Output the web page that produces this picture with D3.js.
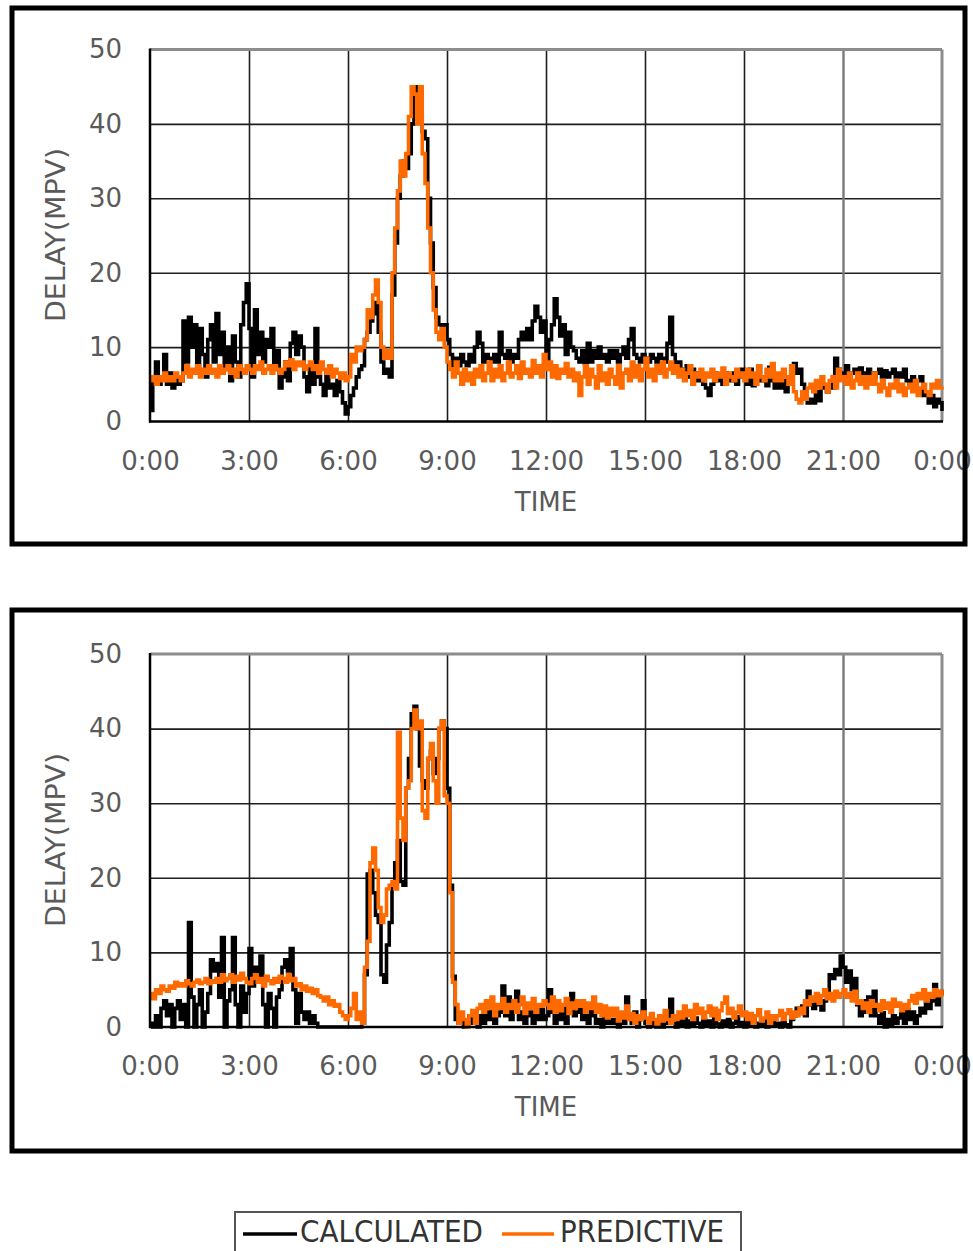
<!DOCTYPE html>
<html>
<head>
<meta charset="utf-8">
<script src="https://cdn.jsdelivr.net/npm/d3@7"></script>
<style>
  body { margin: 0; background: #fff; }
  text { font-family: "DejaVu Sans", sans-serif; }
</style>
</head>
<body>
<svg id="chart" width="973" height="1251"></svg>
<script>
// time axis: one value every 5 minutes, 0:00 .. 24:00 (12 per hour row + final point)
var xTicks = [0, 180, 360, 540, 720, 900, 1080, 1260, 1440];
var xTickLabels = ["0:00", "3:00", "6:00", "9:00", "12:00", "15:00", "18:00", "21:00", "0:00"];
var yTicks = [0, 10, 20, 30, 40, 50];
var seriesNames = ["CALCULATED", "PREDICTIVE"];

// upper chart
var calcTop = [
  1.5, 5.5, 8, 5, 6, 9, 5, 6.5, 4.5, 6, 5, 5.5,
  13.5, 8, 14, 10, 13, 7, 12.5, 9, 6, 11, 13, 8,
  14.5, 9, 12, 7, 10, 5.5, 11.5, 8, 6, 13, 16, 18.5,
  12.5, 6, 15, 9, 12, 8, 11, 10, 12.5, 7, 9.5, 4.5,
  6, 8, 5.5, 10.5, 12, 9, 11.5, 10, 6, 4, 7.5, 5,
  12.5, 6, 5, 3.5, 6.5, 4.5, 5, 3.5, 5.5, 4, 2.5, 1,
  2, 3.5, 4.5, 6, 7, 7.5, 11, 12, 13.5, 14.5, 16, 12,
  8, 6.5, 7, 6, 17, 24, 30, 33, 35, 34, 36, 40,
  45, 44, 41, 39, 38, 30, 24, 18, 14, 13, 12, 13,
  11, 9, 7.5, 8.5, 7.5, 9, 8, 7.5, 9, 8, 10, 12,
  10.5, 8, 9, 8.5, 8, 9, 8, 12, 9, 8.5, 9.5, 8,
  9, 8.5, 11, 12, 11, 12.5, 11, 13.5, 15.5, 14, 12, 13.5,
  8, 11, 13, 16.5, 14, 11.5, 13, 9, 12, 10, 9.5, 8.5,
  8, 9.5, 7.8, 10.5, 8, 9.5, 8.5, 10, 8.5, 9, 8, 9.5,
  8.5, 9.5, 8, 9, 10, 8.5, 11, 12.5, 9, 8.5, 8, 9,
  8.5, 8, 9, 8.5, 8, 9, 8.5, 8, 10.5, 14, 9, 7,
  8, 7, 6.5, 7.5, 6, 7, 6.5, 5.5, 6, 5, 4.5, 3.5,
  5, 6.5, 5.5, 6, 5, 6.5, 6, 5.5, 6.5, 5, 6, 7,
  6, 5, 7, 4.8, 6, 7.5, 5.5, 6, 4.8, 7.3, 5.5, 4.5,
  6, 4.5, 5.5, 4, 6, 7, 7.8, 6.5, 7, 5, 3.5, 2.5,
  3, 2.5, 4, 2.8, 5, 4.5, 4, 5, 4.5, 8.5, 7, 6,
  6.5, 7.5, 5.5, 6.5, 7, 6, 7.2, 6.5, 6, 7, 6.5, 6,
  6.5, 7, 6, 6.8, 6, 6.5, 7, 6, 6.5, 6, 7, 5.5,
  5, 6, 4.6, 5.5, 6, 3.5, 4, 2.5, 3.5, 2, 3, 2.5,
  1.4
];
var predTop = [
  5.5, 6, 5, 6, 5.5, 6.5, 5.5, 6, 5.5, 6.5, 6, 5.5,
  6.5, 7.5, 6, 7, 6.5, 7.5, 6, 7, 6.5, 7.5, 6.5, 7,
  6, 7.5, 6.5, 7, 7.5, 6.5, 7, 6, 7.5, 7, 6.5, 7.5,
  7, 6.5, 7.5, 7, 8, 6.5, 7, 7.5, 6.5, 7.5, 7, 6.5,
  7, 8, 7.5, 8.3, 7, 8, 7.5, 8, 7, 7.5, 8, 7,
  7.5, 6.5, 8, 7, 6.5, 7.5, 6, 7, 6.5, 5.8, 6.5, 5.5,
  6, 9, 8, 10, 9.5, 10, 11, 15, 14, 17, 19, 16,
  10, 8.5, 9.5, 8.5, 20, 26, 31, 35, 33, 36, 41, 45,
  44, 40, 45, 36, 32, 26, 20, 15, 12, 11, 12.5, 10,
  8, 7, 6, 8, 6.5, 5, 7, 5.5, 6.5, 5, 7, 6,
  7.5, 5.5, 6.5, 8, 5.5, 7, 6, 7.5, 5.5, 6.5, 8, 6,
  6.5, 7.5, 5.8, 8, 6.5, 7, 6, 8.2, 6.5, 7.5, 6, 9,
  7, 8, 6, 7.5, 5.8, 7, 6.5, 7.8, 6, 7, 5.5, 6.5,
  3.5, 6, 7.5, 5, 7, 6, 4.5, 7.5, 5.5, 6.5, 5, 7,
  6, 5, 7.5, 4.5, 6.5, 7, 5.5, 8, 6, 7.5, 5.5, 7,
  8.5, 6, 7, 5.5, 7.5, 6.5, 8, 6, 7, 8, 6.5, 7.5,
  6, 7, 5.5, 6.5, 7.5, 5, 6.5, 6, 7, 5.5, 6.5, 6,
  7, 5.5, 6.5, 6, 7.2, 5, 6.5, 6, 5.5, 7, 6, 6.5,
  5.5, 7, 6, 6.5, 5, 7.5, 6, 5.5, 7, 6, 7.8, 5.5,
  6.5, 5.5, 7, 6, 5, 7.5, 4, 3, 2.5, 4, 3, 4.5,
  5, 4, 5.5, 4.5, 6, 5, 4, 5.5, 6, 4.5, 7, 5.5,
  6, 5, 6.5, 4.5, 5.5, 6.5, 5, 6, 4.5, 6, 5, 6.5,
  5, 4, 5.5, 4.5, 3.5, 5, 4.5, 5.5, 4, 5, 3.5, 4.5,
  5, 4, 5.5, 3.5, 4.5, 5, 4, 3.5, 5, 4.5, 5.5, 4.5,
  4.7
];

// lower chart
var calcBottom = [
  0.5, 0, 1.5, 0, 2.5, 3.5, 1.5, 3, 0, 2.5, 3.5, 1,
  3, 0, 14, 4, 0, 3, 5, 0, 2, 4.5, 9, 7.5,
  8.5, 4, 12, 0, 3.5, 5, 12, 3, 0, 5.5, 2, 4.5,
  10.5, 5.5, 8, 6, 9.5, 3, 0, 4.5, 2.5, 0, 4, 5,
  8, 9, 7.5, 10.5, 5, 0.5, 4.5, 2, 1, 2, 0.5, 1.5,
  0.5, 0, 0, 0, 0, 0, 0, 0, 0, 0, 0, 0,
  0, 0, 0, 0, 0, 0.5, 7, 20.5, 21, 18, 15, 14,
  7, 6, 11, 14, 19, 22, 25, 19.5, 19, 32, 36, 42,
  43, 40, 35, 33, 32, 36, 37, 34, 36, 40, 41, 40,
  32, 19, 6.8, 1, 0.5, 1, 0, 0.5, 1.5, 0.5, 1, 0,
  1.5, 0.5, 2, 1, 2.3, 0.5, 1.5, 2, 5.5, 1.5, 4, 1,
  3, 4.8, 1, 2, 0.5, 1.5, 2, 0.5, 1.8, 1, 2.3, 1,
  1.5, 5, 2, 0.5, 3, 1, 2.5, 0.5, 3, 4.5, 1.5, 2,
  3.5, 1, 2.5, 0.5, 3, 1.5, 0.5, 1, 0, 1.2, 0.5, 1,
  0.5, 1, 0, 1.4, 0.5, 4, 1.5, 0.5, 2, 0, 1, 3.5,
  0.5, 0, 1, 0.3, 0, 0.8, 0, 0.5, 1, 3.7, 0.5, 0,
  1, 0.3, 1.4, 0, 0.8, 0.2, 1.2, 0.5, 0, 1, 0.3, 0.8,
  0, 1.2, 0.4, 0, 0.8, 0.2, 1, 0, 0.5, 1.4, 0.2, 0.6,
  0, 0.8, 0.3, 1, 0, 0.5, 0.2, 0.9, 0, 0.4, 1, 0.2,
  0.5, 0, 0.8, 0.3, 0, 1, 1.5, 2.5, 1.8, 2.8, 1.5, 4.8,
  3, 2.5, 4, 3, 2.3, 3.5, 4, 7, 6.5, 7.7, 7, 9.5,
  8, 6, 7.5, 5, 6.5, 3, 1.5, 3.5, 2, 4, 1.5, 4.8,
  1.5, 0.5, 1.9, 0, 1, 0.3, 1.5, 0.5, 1.2, 2, 0.5, 2.3,
  1, 2, 0.5, 1.5, 2.5, 1.9, 4, 2.5, 3.5, 5.7, 3, 4.5,
  5
];
var predBottom = [
  4.5, 3.8, 5, 4.5, 5.5, 5, 4.8, 5.5, 5.2, 6, 5.5, 5.8,
  5.5, 6.2, 5.8, 5.5, 6, 6.3, 5.8, 6, 6.5, 5.8, 6.2, 6,
  6.5, 6, 7, 6.2, 6.5, 7, 6, 6.8, 6.3, 7.2, 6.5, 6,
  5.8, 6.5, 7, 6, 6.5, 5.5, 6.8, 6.2, 5.8, 6.5, 6, 6.8,
  6.5, 6, 7, 6.2, 6.5, 5.5, 5.8, 5, 5.5, 4.8, 5.2, 4.5,
  5, 4.2, 4, 3.5, 4, 3, 3.5, 2.8, 3, 2, 1.5, 1,
  1.5, 2.5, 4.5, 1, 2, 0.5, 8, 11.5, 22, 24, 21, 16,
  14, 15, 18.5, 19, 19.5, 18.5, 39.5, 28, 25, 32, 33, 40,
  42.5, 40, 41, 29, 28, 36, 38, 33, 30, 40, 41, 31,
  30, 18, 6, 3, 0.5, 2, 1, 0, 1.5, 2.2, 0.5, 2.5,
  3, 2, 3.5, 2.5, 4, 1.5, 3, 2.5, 3.8, 2, 3, 2.5,
  3.5, 2, 3, 4, 1.8, 3.2, 2.5, 3.8, 2, 3, 2.8, 3.5,
  3, 2.5, 4, 2, 3.5, 2.2, 3, 3.8, 1.8, 3.2, 2.5, 3.5,
  2.8, 3.5, 2, 3.2, 2.5, 4, 2, 3, 1.5, 2.8, 1.2, 2.5,
  1.5, 2.5, 0.8, 2, 1.2, 2.8, 1, 1.8, 0.5, 1.5, 1, 2,
  1.2, 0.5, 1.8, 1, 0.3, 1.5, 0.8, 2.2, 1, 0.5, 1.5, 1,
  2, 1.2, 2.8, 1.5, 2.2, 1, 3, 1.8, 2.5, 1.2, 2, 2.8,
  1.5, 2.5, 1, 2.2, 3.2, 4, 1.8, 2.5, 1.2, 2, 2.8, 1.5,
  2, 1, 1.8, 0.5, 1.5, 2.3, 0.8, 1.2, 2, 0.5, 1.5, 1,
  1.5, 2.2, 1, 1.8, 2.3, 1.2, 2, 1.5, 2.5, 1.8, 3.5, 3,
  4, 3.5, 4.5, 3.2, 4.2, 5, 3.8, 4.5, 3.5, 4.8, 4, 4.5,
  5, 4, 4.5, 3.5, 4.8, 3.2, 3.5, 2.5, 3.2, 2, 3.5, 2.8,
  3, 2.2, 3.5, 2.5, 3.2, 2, 3.7, 2.8, 3.2, 2.2, 3, 2.5,
  3.5, 4.2, 3.2, 4.5, 3.8, 5, 3.5, 4.5, 4, 5, 4.2, 4.8,
  4.1
];

var colors = ["#000000", "#ff6a00"];
var textColor = "#5a5a5a";
var svg = d3.select("#chart");

var panels = [
  {series: [calcTop, predTop], yTop: 49.5, yBottom: 421.5, boxTop: 8, boxBottom: 544, labelY: 235},
  {series: [calcBottom, predBottom], yTop: 654, yBottom: 1027, boxTop: 610, boxBottom: 1151, labelY: 840}
];

var x = d3.scaleLinear().domain([0, 1440]).range([150, 942]);

panels.forEach(function(p){
  var y = d3.scaleLinear().domain([0, 50]).range([p.yBottom, p.yTop]);
  var g = svg.append("g");

  // horizontal grid
  g.append("g")
    .attr("transform", "translate(150,0)")
    .call(d3.axisLeft(y).tickValues(yTicks.slice(1, 5)).tickSize(-792).tickFormat(""))
    .call(function(a){ a.select(".domain").remove(); })
    .selectAll("line").attr("stroke", "#1e1e1e").attr("stroke-width", 1.6);

  // vertical grid
  g.append("g")
    .attr("transform", "translate(0," + p.yTop + ")")
    .call(d3.axisBottom(x).tickValues(xTicks.slice(1, 8)).tickSize(p.yBottom - p.yTop).tickFormat(""))
    .call(function(a){ a.select(".domain").remove(); })
    .selectAll("line")
      .attr("stroke", function(d){ return d === 1260 ? "#7a7a7a" : "#1e1e1e"; })
      .attr("stroke-width", function(d){ return d === 1260 ? 2.4 : 1.6; });

  // plot frame: gray top / right, black axes
  g.append("line").attr("x1", 150).attr("x2", 942).attr("y1", p.yTop).attr("y2", p.yTop)
    .attr("stroke", "#8c8c8c").attr("stroke-width", 3);
  g.append("line").attr("x1", 942).attr("x2", 942).attr("y1", p.yTop).attr("y2", p.yBottom)
    .attr("stroke", "#8c8c8c").attr("stroke-width", 3);

  var line = d3.line()
    .x(function(d, i){ return x(i * 5); })
    .y(function(d){ return y(d); })
    .curve(d3.curveStepAfter);

  p.series.forEach(function(s, k){
    g.append("path")
      .datum(s)
      .attr("d", line)
      .attr("fill", "none")
      .attr("stroke", colors[k])
      .attr("stroke-width", 3.6)
      .attr("stroke-linejoin", "miter");
  });

  g.append("line").attr("x1", 150).attr("x2", 150).attr("y1", p.yTop - 1).attr("y2", p.yBottom + 1)
    .attr("stroke", "#000").attr("stroke-width", 2.5);
  g.append("line").attr("x1", 149).attr("x2", 943).attr("y1", p.yBottom).attr("y2", p.yBottom)
    .attr("stroke", "#000").attr("stroke-width", 2.5);

  // tick labels
  var yAxis = g.append("g")
    .attr("transform", "translate(150,0)")
    .call(d3.axisLeft(y).tickValues(yTicks).tickSize(0).tickPadding(28));
  yAxis.select(".domain").remove();
  yAxis.selectAll("text").attr("font-size", 26).attr("fill", textColor)
    .attr("font-family", "DejaVu Sans");

  var xAxis = g.append("g")
    .attr("transform", "translate(0," + p.yBottom + ")")
    .call(d3.axisBottom(x).tickValues(xTicks).tickSize(0).tickPadding(30)
      .tickFormat(function(d, i){ return xTickLabels[i]; }));
  xAxis.select(".domain").remove();
  xAxis.selectAll("text").attr("font-size", 26).attr("fill", textColor)
    .attr("font-family", "DejaVu Sans");

  g.append("text")
    .attr("x", 546).attr("y", p.yBottom + 89)
    .attr("text-anchor", "middle")
    .attr("font-size", 26).attr("fill", textColor)
    .text("TIME");

  g.append("text")
    .attr("transform", "translate(65," + p.labelY + ") rotate(-90)")
    .attr("text-anchor", "middle")
    .attr("font-size", 26).attr("fill", textColor)
    .attr("textLength", 174).attr("lengthAdjust", "spacingAndGlyphs")
    .text("DELAY(MPV)");

  // outer box
  g.append("rect")
    .attr("x", 12).attr("y", p.boxTop)
    .attr("width", 953).attr("height", p.boxBottom - p.boxTop)
    .attr("fill", "none").attr("stroke", "#000").attr("stroke-width", 5);
});

// legend
var leg = svg.append("g");
leg.append("rect")
  .attr("x", 235).attr("y", 1212).attr("width", 506).attr("height", 50)
  .attr("fill", "#fff").attr("stroke", "#555").attr("stroke-width", 2);
var legItems = [
  {x1: 243, x2: 297, tx: 300, tw: 183},
  {x1: 502, x2: 554, tx: 560, tw: 164}
];
seriesNames.forEach(function(name, k){
  leg.append("line")
    .attr("x1", legItems[k].x1).attr("x2", legItems[k].x2)
    .attr("y1", 1234).attr("y2", 1234)
    .attr("stroke", colors[k]).attr("stroke-width", 3.5);
  leg.append("text")
    .attr("x", legItems[k].tx).attr("y", 1242)
    .attr("font-size", 30).attr("fill", "#333")
    .attr("textLength", legItems[k].tw).attr("lengthAdjust", "spacingAndGlyphs")
    .text(name);
});
</script>
</body>
</html>
